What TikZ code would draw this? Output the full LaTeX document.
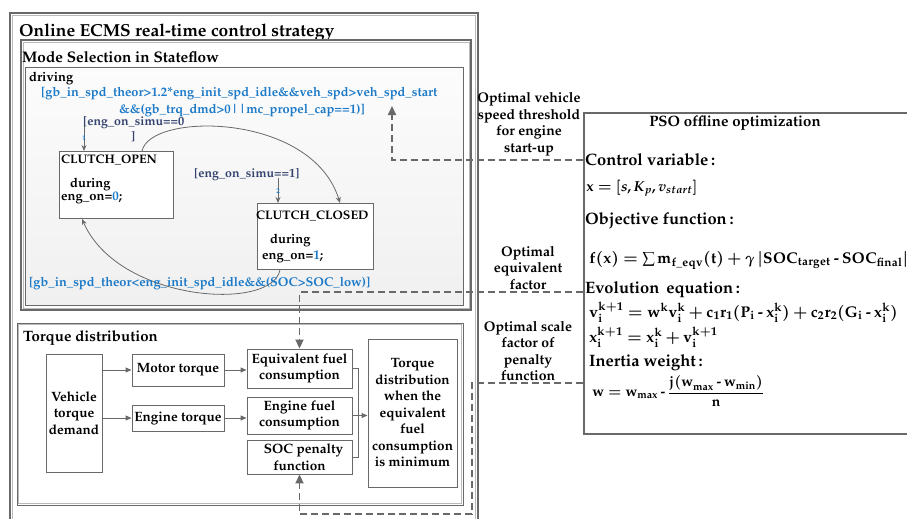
\documentclass[tikz,border=0pt]{standalone}
\usepackage[T1]{fontenc}
\usepackage{mathpazo}
\usepackage{amsmath}
\usetikzlibrary{arrows.meta}

\definecolor{edgegray}{RGB}{105,105,105}
\definecolor{lightedge}{RGB}{185,185,185}
\definecolor{sfblue}{RGB}{28,122,200}
\definecolor{sfnavy}{RGB}{52,66,110}
\definecolor{paneltop}{RGB}{252,252,252}
\definecolor{panelbot}{RGB}{240,240,240}

\tikzset{
  outerline/.style={draw=edgegray, line width=1.3pt},
  innerline/.style={draw=lightedge, line width=0.8pt},
  block/.style={draw=edgegray, line width=0.9pt, fill=white, align=center,
    font=\fontsize{13.5}{16.5}\selectfont\bfseries, inner sep=0pt},
  sfstate/.style={draw=edgegray, line width=0.9pt, fill=white, inner sep=0pt},
  sftext/.style={font=\fontsize{13}{14}\selectfont\bfseries, inner sep=0pt, anchor=west},
  sfcond/.style={font=\fontsize{12.8}{14}\selectfont\bfseries, text=sfblue, inner sep=0pt, anchor=west},
  sfguard/.style={font=\fontsize{12.4}{14}\selectfont\bfseries, text=sfnavy, inner sep=0pt, anchor=west},
  sforder/.style={font=\fontsize{7}{8}\selectfont\bfseries, text=sfblue, inner sep=0pt},
  feed/.style={draw=edgegray, line width=1.8pt, dash pattern=on 7pt off 4pt,
    -{Triangle[length=9pt,width=8pt]}},
  flow/.style={draw=edgegray, line width=0.9pt, -{Triangle[length=6pt,width=5pt]}},
  trans/.style={draw=edgegray, line width=0.8pt, -{Stealth[length=6pt,width=5pt]}},
  sidelabel/.style={font=\fontsize{14}{16.5}\selectfont\bfseries, align=center, inner sep=0pt},
  psohead/.style={font=\fontsize{16.5}{18}\selectfont\bfseries, inner sep=0pt, anchor=west},
  psomath/.style={font=\fontsize{15.5}{17}\selectfont\bfseries\boldmath, inner sep=0pt, anchor=west},
}

\begin{document}
\begin{tikzpicture}[x=1pt,y=-1pt]
\useasboundingbox (0,0) rectangle (907,519);

% ---------- online ECMS frame (open at the bottom) ----------
\draw[outerline] (10,530) -- (10,13) -- (478,13) -- (478,530);
\draw[innerline] (12.5,530) -- (12.5,15.5) -- (475.5,15.5) -- (475.5,530);
\node[anchor=west, inner sep=0pt, font=\fontsize{17.4}{20}\selectfont\bfseries] (title) at (19,32)
  {Online ECMS real-time control strategy};

% ---------- mode selection ----------
\draw[outerline] (21,40) rectangle (471,310);
\draw[innerline] (23,42) rectangle (469,308);
\node[anchor=west, inner sep=0pt, font=\fontsize{15.3}{17}\selectfont\bfseries] (modetitle) at (22,57)
  {Mode Selection in Stateflow};
\shade[top color=paneltop, bottom color=panelbot] (25,67) rectangle (463,305);
\draw[edgegray, line width=0.9pt] (25,67) rectangle (463,305);
\node[sftext] (driving) at (29,78) {driving};

\node[sfcond] (cond1) at (41,94)
  {[gb\_in\_spd\_theor>1.2*eng\_init\_spd\_idle\&\&veh\_spd>veh\_spd\_start};
\node[sfcond] (cond2) at (119,111)
  {\&\&(gb\_trq\_dmd>0\textbar\textbar mc\_propel\_cap==1)]};

% states
\node[sfstate, anchor=north west, minimum width=114pt, minimum height=67pt] (open) at (59,151) {};
\node[sftext] (opentitle) at (61,160) {\fontsize{12.4}{14}\selectfont CLUTCH\_OPEN};
\node[sftext] (opendur) at (70,184) {during};
\node[sftext] (openact) at (61,198) {eng\_on=\textcolor{sfblue}{0};};

\node[sfstate, anchor=north west, minimum width=116pt, minimum height=66pt] (closed) at (257,203) {};
\node[sftext] (closedtitle) at (256,216) {\fontsize{12.4}{14}\selectfont CLUTCH\_CLOSED};
\node[sftext] (closeddur) at (270,240) {during};
\node[sftext] (closedact) at (262,257) {eng\_on=\textcolor{sfblue}{1};};

% transitions
\coordinate (g1src) at (84,125);
\draw[trans] (g1src) -- (g1src |- open.north);
\node[sfguard] (guard1) at (83,123) {[eng\_on\_simu==0};
\node[sfguard] (guard1b) at (131,137) {]};
\node[sforder] (ord1) at (84,138) {1};

\draw[trans] ([xshift=83pt]open.north west) .. controls (150,112) and (312,112) .. ([xshift=83pt]closed.north west);

\coordinate (g2src) at (278,178);
\draw[trans] (g2src) -- (g2src |- closed.north);
\node[sfguard] (guard2) at (194,175) {[eng\_on\_simu==1]};
\node[sforder] (ord2) at (278,191) {2};

\draw[trans] ([xshift=23pt]closed.south west) .. controls (272,312) and (118,302) .. ([xshift=23pt]open.south west);
\node[sfcond] (cond3) at (29,284)
  {[gb\_in\_spd\_theor<eng\_init\_spd\_idle\&\&(SOC>SOC\_low)]};

% ---------- torque distribution ----------
\draw[outerline, line width=1pt] (17,323) rectangle (463,505);
\draw[innerline, line width=0.6pt] (18.5,324.5) rectangle (461.5,503.5);
\node[anchor=west, inner sep=0pt, font=\fontsize{15}{17}\selectfont\bfseries] (tdtitle) at (23,338)
  {Torque distribution};

\node[block, minimum width=56pt, minimum height=118pt] (vtd) at (74,413) {Vehicle\\torque\\demand};
\node[block, minimum width=92pt, minimum height=32pt] (motor) at (178,370) {Motor torque};
\node[block, minimum width=92pt, minimum height=26pt] (engine) at (178,418) {Engine torque};
\node[block, minimum width=105pt, minimum height=39pt] (eqv) at (299.5,368.5) {Equivalent fuel\\consumption};
\node[block, minimum width=105pt, minimum height=37pt] (efc) at (299.5,415.5) {Engine fuel\\consumption};
\node[block, minimum width=105pt, minimum height=34pt] (soc) at (299.5,457) {\hspace*{8pt}SOC penalty\\function};
\node[block, minimum width=89pt, minimum height=148pt] (result) at (412.5,413)
  {Torque\\distribution\\when the\\equivalent\\fuel\\consumption\\is minimum};

\draw[flow] (vtd.east |- motor.west) -- (motor.west);
\draw[flow] (vtd.east |- engine.west) -- (engine.west);
\draw[flow] (motor.east) -- (eqv.west |- motor.east);
\draw[flow] (engine.east) -- (efc.west |- engine.east);
\coordinate (bus) at (358,0 |- efc.east);
\draw[edgegray, line width=0.9pt] (eqv.east) -- (bus |- eqv.east) -- (bus |- soc.east) -- (soc.east);
\draw[edgegray, line width=0.9pt] (efc.east) -- (bus);
\draw[flow] (bus) -- (result.west |- bus);

% ---------- PSO offline optimization ----------
\node[draw=edgegray, line width=2pt, anchor=north west, minimum width=340pt, minimum height=321pt,
  inner sep=0pt] (pso) at (583,112) {};
\node[font=\fontsize{15}{17}\selectfont\bfseries, inner sep=0pt] (psotitle) at (735,123) {PSO offline optimization};
\node[psohead] (ctrlvar) at (585,160) {Control variable\,:};
\node[psomath, font=\fontsize{14.5}{17}\selectfont\bfseries\boldmath] (xdef) at (586,188) {$\mathbf{x} = [s, K_p, v_{start}]$};
\node[psohead] (objfun) at (585,221) {Objective function\,:};
\node[psomath] (fdef) at (589,260)
  {$\mathbf{f(x)} = \textstyle\sum \mathbf{m}_{\mathbf{f\_eqv}}\mathbf{(t)} + \gamma\,|\mathbf{SOC}_{\mathbf{target}} \mathbin{\text{-}} \mathbf{SOC}_{\mathbf{final}}|$};
\node[psohead] (evol) at (585,290) {Evolution\, equation\,:};
\node[psomath] (vupd) at (589,312)
  {$\mathbf{v}_{\mathbf{i}}^{\mathbf{k+1}} = \mathbf{w}^{\mathbf{k}}\mathbf{v}_{\mathbf{i}}^{\mathbf{k}} + \mathbf{c}_1\mathbf{r}_1(\mathbf{P}_{\mathbf{i}} \mathbin{\text{-}} \mathbf{x}_{\mathbf{i}}^{\mathbf{k}}) + \mathbf{c}_2\mathbf{r}_2(\mathbf{G}_{\mathbf{i}} \mathbin{\text{-}} \mathbf{x}_{\mathbf{i}}^{\mathbf{k}})$};
\node[psomath] (xupd) at (589,337)
  {$\mathbf{x}_{\mathbf{i}}^{\mathbf{k+1}} = \mathbf{x}_{\mathbf{i}}^{\mathbf{k}} + \mathbf{v}_{\mathbf{i}}^{\mathbf{k+1}}$};
\node[psohead] (inertia) at (589,363) {Inertia weight\,:};
\node[psomath, font=\fontsize{14}{17}\selectfont\bfseries\boldmath] (wdef) at (592,391)
  {$\mathbf{w} = \mathbf{w}_{\max} \mathbin{\text{-}} \dfrac{\mathbf{j(w}_{\max} \mathbin{\text{-}} \mathbf{w}_{\min}\mathbf{)}}{\mathbf{n}}$};

% ---------- optimised parameters fed back ----------
\coordinate (vstarttip) at (392,106);
\draw[feed] ([yshift=-48pt]pso.north west) -| (vstarttip);
\draw[feed] ([yshift=-180pt]pso.north west) -| (eqv.north);
\coordinate (penturn) at (472,383);
\coordinate (penlow) at (472,514);
\draw[feed] ([yshift=-271pt]pso.north west) -- (penturn) -- (penlow) -| (soc.south);

\node[sidelabel] (lblspeed) at (529,124) {Optimal vehicle\\speed threshold\\for engine\\start-up};
\node[sidelabel] (lblfactor) at (528,268) {Optimal\\equivalent\\factor};
\node[sidelabel] (lblscale) at (528,351) {Optimal scale\\factor of\\penalty\\function};
\end{tikzpicture}
\end{document}
